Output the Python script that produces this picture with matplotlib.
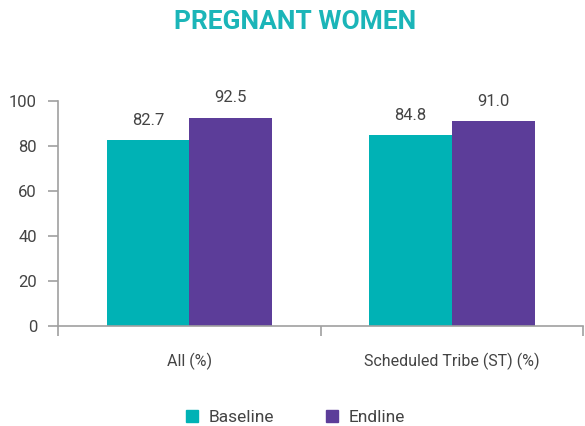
import numpy as np
import matplotlib.pyplot as plt
from matplotlib.patches import Patch

categories = ['All (%)', 'Scheduled Tribe (ST) (%)']
baseline = [82.7, 84.8]
endline = [92.5, 91.0]
series_names = ['Baseline', 'Endline']

teal = '#00B2B5'
purple = '#5C3D99'
grey = '#444444'
axis_grey = '#A0A0A0'

plt.rcParams['font.family'] = ['Roboto', 'DejaVu Sans']

fig = plt.figure(figsize=(5.85, 4.26), dpi=100)
ax = fig.add_axes([0.099, 0.235, 0.898, 0.528])

x = np.arange(len(categories))
w = 0.315
b1 = ax.bar(x - w / 2, baseline, w, color=teal)
b2 = ax.bar(x + w / 2, endline, w, color=purple)

for bars, vals in ((b1, baseline), (b2, endline)):
    for r, v in zip(bars, vals):
        ax.text(r.get_x() + r.get_width() / 2, v + 5.5, f'{v:.1f}',
                ha='center', va='bottom', fontsize=12, color=grey)

ax.set_xlim(-0.5, 1.5)
ax.set_ylim(0, 100)
ax.set_yticks(range(0, 101, 20))
ax.tick_params(axis='y', colors=axis_grey, labelcolor=grey, labelsize=12,
               length=7, width=1.2, pad=8)

# category labels centred, tick marks on the group boundaries
ax.set_xticks([-0.5, 0.5, 1.5])
ax.set_xticklabels([])
ax.set_xticks(x, minor=True)
ax.set_xticklabels(categories, minor=True)
ax.tick_params(axis='x', which='major', colors=axis_grey, length=7,
               width=1.2, direction='out')
ax.tick_params(axis='x', which='minor', length=0, labelsize=11.5,
               labelcolor=grey, pad=19)

for s in ['top', 'right']:
    ax.spines[s].set_visible(False)
for s in ['left', 'bottom']:
    ax.spines[s].set_color(axis_grey)
    ax.spines[s].set_linewidth(1.2)

fig.text(0.505, 0.948, 'PREGNANT WOMEN', ha='center', va='center',
         fontsize=19, fontweight='bold', color='#1BB5B8')

handles = [Patch(color=teal), Patch(color=purple)]
fig.legend(handles, series_names, loc='center', bbox_to_anchor=(0.505, 0.02),
           ncol=2, frameon=False, fontsize=12.5, handlelength=0.7,
           handleheight=0.7, columnspacing=3.0, handletextpad=0.6,
           labelcolor=grey)

fig.savefig('out.png', dpi=100)
